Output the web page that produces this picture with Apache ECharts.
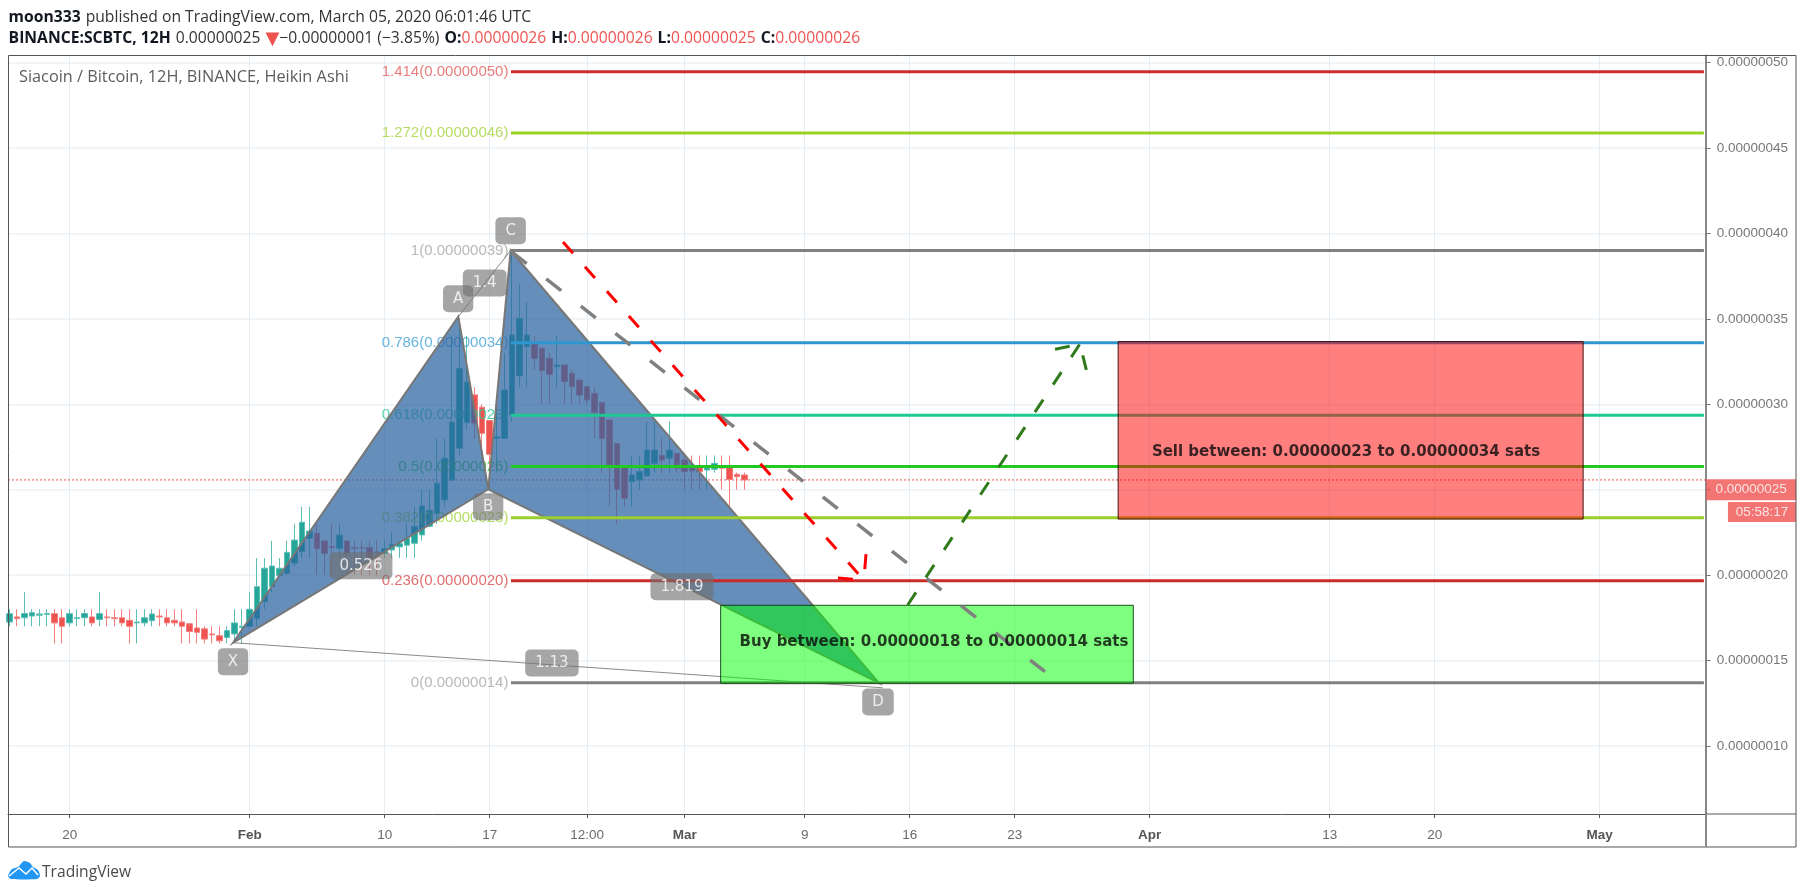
<!DOCTYPE html>
<html><head><meta charset="utf-8"><title>Siacoin / Bitcoin</title>
<style>html,body{margin:0;padding:0;background:#fff}#c{width:1805px;height:894px}</style>
<script src="https://cdn.jsdelivr.net/npm/echarts@6/dist/echarts.min.js"></script>
</head><body><div id="c"></div>
<script>
// All x values are days counted from Jan 1 2020 = 0; all y values are satoshis (1e-8 BTC)
const xTicks = [19,31,40,47,53.5,60,68,75,82,91,103,110,121];
const xTickLabels = ['20','Feb','10','17','12:00','Mar','9','16','23','Apr','13','20','May'];
const yTicks = [10,15,20,25,30,35,40,45,50];
const firstBarDay = 15;
// open, close, low, high
const candles = [
[17.25,17.74,17,18],[17.55,17.45,17,18],[17.5,17.75,17,19],[17.6,17.8,17,18],[17.65,17.72,17,18],[17.7,17.75,17,18],
[17.74,17.2,16,18],[17.5,17.0,16,18],[17.2,17.74,17,18],[17.45,17.5,17,18],[17.5,17.75,17,18],[17.55,17.2,17,18],
[17.4,17.74,17,19],[17.55,17.5,17,18],[17.5,17.45,17,18],[17.5,17.2,17,18],[17.35,17.0,16,18],[17.2,17.25,16,18],
[17.2,17.5,17,18],[17.33,17.72,17,18],[17.6,17.55,17,18],[17.5,17.2,17,18],[17.35,17.2,17,18],[17.25,17.0,16,18],
[17.15,16.7,16,17],[16.9,16.65,16,18],[16.85,16.25,16,17],[16.55,16.5,16,17],[16.45,16.15,16,17],[16.35,16.75,16,17],
[16.55,17.2,16,18],[16.93,17.0,16,18],[17,18,17,19],[17.47,19.32,17,21],[18.44,20.4,18,21],[19.32,20.53,19,22],
[19.96,20.4,19.9,21],[20.1,21.33,20,22],[20.7,22.05,20.5,23],[21.37,23.09,21,24],[22.15,22.58,21,24],[22.44,21.56,20,23],
[22,21.27,20,22],[21.67,21.62,20,23],[21.56,22.34,21,23],[22,21.27,20,22],[21.6,21.55,20,22],[21.62,21.58,20,22],
[21.62,21,20,22],[21.35,21.3,20,22],[21.27,21.55,21,22],[21.47,21.8,21,22.5],[21.65,21.85,21,22],[21.75,22.15,21,23],
[21.86,22.84,21,24],[22.35,24.05,22,25],[22.85,23.8,22.8,25],[23.6,25.38,23,28],[24.4,26.84,24,28],[25.57,28.95,25.5,34],
[27.43,32.1,27,35],[28.93,31.3,28.5,34],[30.55,28.9,28,31],[29.83,28.3,27,30],[29.05,27.07,25,29],[28,28.1,26,30],
[28,30.84,28,33],[29.38,34.06,29,39],[31.66,35.04,31,37],[33.38,34.06,31,36],[33.67,32.69,32,34],[33.28,31.97,30,33.3],
[32.69,31.75,30,33],[32.2,32.3,31,34],[32.3,31.33,30,32.3],[31.81,31.03,30,32],[31.42,30.54,30,31.4],[31.03,30.25,30,31],
[30.64,29.5,28,31],[30.11,28,26,30.1],[29.08,26.45,24,29.1],[27.7,25.02,23,27.7],[26.3,24.5,24,26.3],[25.47,25.86,24,27],
[25.57,26.06,25,27],[25.8,27.32,26,29],[26.54,27.32,26,29],[27,26.74,26,28],[26.84,27.32,26,29],[27.13,26.25,26,27.1],
[26.74,26.06,25,27],[26.3,26.1,25,27],[26.35,26.05,25,27],[26.15,26.35,25,27],[26.19,26.54,26,27],[26.4,26.25,25,27],
[26.35,25.6,24,27],[25.9,25.76,25,26],[25.86,25.57,25,26]
];
// Fibonacci retracement: label text, level, line colour, label colour
const fibLabels = ['1.414(0.00000050)','1.272(0.00000046)','1(0.00000039)','0.786(0.00000034)','0.618(0.00000029)','0.5(0.00000026)','0.382(0.00000023)','0.236(0.00000020)','0(0.00000014)'];
const fibLevels = [49.47,45.88,39,33.6,29.36,26.35,23.36,19.67,13.7];
const fibColors = ['#cc2e2e','#9ad125','#808080','#2f96d0','#1fc892','#22c922','#9acd2e','#cc2929','#808080'];
const fibTextColors = ['#e25b5b','#a3d43e','#a6a6a6','#3fa0d8','#2fcb98','#2fc92f','#a3d43e','#db4b4b','#a6a6a6'];
const fibStartDay = 48.42, fibEndDay = 127.95;
// Harmonic pattern
const triangleXAB = [[29.89,16.04],[44.91,35.13],[46.91,25.02]];
const triangleBCD = [[46.91,25.02],[48.4,39],[72.95,13.68]];
const lineAC = [[44.91,35.13],[48.4,39]];
const lineXD = [[29.89,16.04],[73.2,13.4]];
const patternLabelTexts = ['X','A','B','C','D','1.4','0.526','1.819','1.13'];
const patternLabelX = [29.89,44.9,46.9,48.4,72.89,46.67,38.42,59.82,51.15];
const patternLabelY = [14.93,36.18,24.0,40.16,12.57,37.1,20.55,19.32,14.85];
// Zones
const buyZone = [[62.4,18.23],[89.91,13.67]];
const sellZone = [[88.9,33.67],[119.9,23.28]];
const buyText = 'Buy between: 0.00000018 to 0.00000014 sats';
const sellText = 'Sell between: 0.00000023 to 0.00000034 sats';
const buyTextPos = [76.62,16.07];
const sellTextPos = [104.09,27.19];
// Hand-drawn arrows
const redArrow = [[51.89,39.5],[71.95,19.71]];
const redHeadA = [[70.22,19.83],[71.95,19.71]];
const redHeadB = [[72.09,21.23],[71.95,19.71]];
const grayTrend = [[48.47,38.93],[84.02,14.34]];
const greenArrow = [[74.87,18.25],[86.35,33.53]];
const greenHeadA = [[84.69,33.22],[86.35,33.53]];
const greenHeadB = [[86.78,32.01],[86.35,33.53]];
const lastPriceLine = 25.57;
const priceBadge = ['0.00000025',131.1,25.0];
const timerBadge = ['05:58:17',131.82,23.69];

const X_MIN = 14.89, X_MAX = 128.07, Y_MIN = 6.01, Y_MAX = 50.416;
const SANS = '"Liberation Sans", Arial, sans-serif';
const TV_RED = '#ef5350';

const fmtPrice = v => '0.' + String(Math.round(v)).padStart(8,'0');
const candleData = candles.map((c,i)=>[firstBarDay + i*0.5, c[0], c[1], c[2], c[3]]);

function lineS(name, pts, color, width, dash, z){
  return {type:'line', name, data:pts, symbol:'none', silent:true, animation:false, z,
    lineStyle:{color, width, type:dash||'solid', cap:'butt'}};
}
function polyS(name, pts, fill, stroke, lw, z){
  return {type:'custom', name, data:pts, silent:true, animation:false, z, encode:{x:0,y:1},
    renderItem(params, api){
      if(params.dataIndex!==0) return null;
      return {type:'polygon', shape:{points:pts.map(p=>api.coord(p))},
        style:{fill, stroke, lineWidth:lw, lineJoin:'miter'}};
    }};
}
function rectS(name, c, fill, stroke, z){
  return {type:'custom', name, data:c, silent:true, animation:false, z, encode:{x:0,y:1},
    renderItem(params, api){
      if(params.dataIndex!==0) return null;
      const a=api.coord(c[0]), b=api.coord(c[1]);
      return {type:'rect', shape:{x:a[0],y:a[1],width:b[0]-a[0],height:b[1]-a[1]},
        style:{fill, stroke, lineWidth:1}};
    }};
}
function textS(name, items, label, z, extra){
  return Object.assign({type:'scatter', name, silent:true, animation:false, z, symbol:'circle', symbolSize:1,
    itemStyle:{color:'transparent'},
    data:items.map(t=>({name:t[0], value:[t[1],t[2]]})),
    label:Object.assign({show:true, formatter:'{b}'}, label)}, extra||{});
}

const series = [];
series.push(lineS('last', [[X_MIN,lastPriceLine],[X_MAX,lastPriceLine]], TV_RED, 1, [2,2], 1));
series.push({type:'candlestick', name:'SCBTC', data:candleData, encode:{x:0,y:[1,2,3,4]}, barWidth:6, silent:true, animation:false, z:2,
  itemStyle:{color:'#26a69a', color0:TV_RED, borderColor:'#5cbfb6', borderColor0:'#f37f7c', borderWidth:1}});
fibLevels.forEach((lv,i)=>{
  series.push(lineS('fib'+i, [[fibStartDay,lv],[fibEndDay,lv]], fibColors[i], 3, 'solid', 5));
  series.push(textS('fibL'+i, [[fibLabels[i],fibStartDay,lv]], {position:'left', distance:2, color:fibTextColors[i], fontFamily:SANS, fontSize:15}, 3));
});
series.push(polyS('XAB', triangleXAB, 'rgba(41,98,160,0.72)', '#777777', 2, 4));
series.push(polyS('BCD', triangleBCD, 'rgba(41,98,160,0.72)', '#777777', 2, 4));
series.push(lineS('AC', lineAC, '#8a8a8a', 1, 'solid', 4));
series.push(lineS('XD', lineXD, '#8a8a8a', 1, 'solid', 4));
series.push(rectS('buy', buyZone, 'rgba(0,255,0,0.5)', 'rgba(0,50,0,0.85)', 6));
series.push(rectS('sell', sellZone, 'rgba(255,0,0,0.5)', 'rgba(50,0,0,0.9)', 6));
series.push(lineS('gray', grayTrend, '#808080', 3.5, [19,25], 7));
series.push(lineS('red', redArrow, '#ff0000', 3, [15,18], 7));
series.push(lineS('redA', redHeadA, '#ff0000', 3, [15,18], 7));
series.push(lineS('redB', redHeadB, '#ff0000', 3, [15,18], 7));
series.push(lineS('green', greenArrow, '#317a1c', 3, [15,18], 7));
series.push(lineS('greenA', greenHeadA, '#317a1c', 3, [15,18], 7));
series.push(lineS('greenB', greenHeadB, '#317a1c', 3, [15,18], 7));
series.push(textS('zoneText', [[buyText,buyTextPos[0],buyTextPos[1]],[sellText,sellTextPos[0],sellTextPos[1]]],
  {position:'inside', color:'#0a0a0a', fontFamily:'"DejaVu Sans"', fontWeight:'bold', fontSize:15}, 8));
series.push(textS('pattern', patternLabelTexts.map((t,i)=>[t,patternLabelX[i],patternLabelY[i]]),
  {position:'inside', color:'#fff', fontFamily:'"DejaVu Sans"', fontSize:15, backgroundColor:'rgba(112,112,112,0.78)', borderRadius:5, padding:[6,10,6,10]}, 9));
series.push(textS('priceBadge', [priceBadge], {position:'inside', color:'#fff', fontFamily:SANS, fontSize:13.5, backgroundColor:TV_RED, width:90, height:21, align:'center', verticalAlign:'middle', lineHeight:21}, 10, {clip:false}));
series.push(textS('timerBadge', [timerBadge], {position:'inside', color:'#fff', fontFamily:SANS, fontSize:13.5, backgroundColor:TV_RED, width:68, height:20, align:'center', verticalAlign:'middle', lineHeight:20}, 10, {clip:false}));

const FS = 15.7;
const bold = {color:'#131722', fontWeight:'bold', fontFamily:'"Open Sans"', fontSize:FS};
const norm = {color:'#333', fontWeight:'normal', fontFamily:'"Open Sans"', fontSize:FS};
const redT = {color:TV_RED, fontWeight:'normal', fontFamily:'"Open Sans"', fontSize:FS};
const tri = {color:TV_RED, fontWeight:'normal', fontFamily:'"DejaVu Sans"', fontSize:18};

const chart = echarts.init(document.getElementById('c'), null, {renderer:'canvas', width:1805, height:894});
chart.setOption({
  animation:false, backgroundColor:'#ffffff',
  title:[
    {left:8.6, top:8.5, padding:0, text:'{b|moon333} {n|published on TradingView.com, March 05, 2020 06:01:46 UTC}', textStyle:{rich:{b:bold,n:norm}}},
    {left:8.6, top:30, padding:0, text:'{b|BINANCE:SCBTC, 12H} {n|0.00000025} {t|▼}{n|−0.00000001 (−3.85%)} {b|O:}{r|0.00000026} {b|H:}{r|0.00000026} {b|L:}{r|0.00000025} {b|C:}{r|0.00000026}', textStyle:{rich:{b:bold,n:norm,r:redT,t:tri}}},
    {left:19, top:69, padding:0, text:'Siacoin / Bitcoin, 12H, BINANCE, Heikin Ashi', textStyle:{color:'#5d5d5d', fontWeight:'normal', fontFamily:'"Open Sans"', fontSize:16.3}},
    {left:42, top:865, padding:0, text:'TradingView', textStyle:{color:'#4a4a4a', fontWeight:'normal', fontFamily:'"Open Sans"', fontSize:15.6}}
  ],
  grid:{left:8, top:55.6, width:1697.7, height:758.4, containLabel:false, show:false},
  xAxis:{type:'value', min:X_MIN, max:X_MAX, scale:true,
    axisLine:{show:true, onZero:false, lineStyle:{color:'#555', width:1}},
    axisTick:{show:true, length:4, customValues:xTicks, lineStyle:{color:'#555'}},
    splitLine:{show:true, lineStyle:{color:'#e6eef5', width:1}},
    axisLabel:{customValues:xTicks, margin:14, color:'#6a6a6a', fontFamily:SANS, fontSize:13.5,
      formatter:v=>{const t=xTickLabels[xTicks.indexOf(v)]||''; return /[A-Za-z]/.test(t)?'{m|'+t+'}':t;},
      rich:{m:{fontWeight:'bold', color:'#555', fontFamily:SANS, fontSize:13.5}}}},
  yAxis:{type:'value', position:'right', min:Y_MIN, max:Y_MAX, scale:true,
    axisLine:{show:true, onZero:false, lineStyle:{color:'#888', width:2}},
    axisTick:{show:true, length:5, customValues:yTicks, lineStyle:{color:'#777'}},
    splitLine:{show:true, lineStyle:{color:'#edf2f6', width:1.5}},
    axisLabel:{customValues:yTicks.filter(v=>v!==25), margin:11, color:'#777', fontFamily:SANS, fontSize:13.5, formatter:fmtPrice}},
  series,
  graphic:[
    {type:'rect', silent:true, z:100, shape:{x:8.5,y:55.5,width:1787.5,height:791.5}, style:{fill:'none',stroke:'#555',lineWidth:1}},
    {type:'line', silent:true, z:100, shape:{x1:1706,y1:814,x2:1796,y2:814}, style:{stroke:'#555',lineWidth:1}},
    {type:'line', silent:true, z:100, shape:{x1:1706,y1:814,x2:1706,y2:847}, style:{stroke:'#888',lineWidth:2}},
    {type:'polygon', silent:true, z:100, shape:{smooth:0.25, points:[[8,876],[12,869],[18,867],[24,861],[30,863],[33,867],[38,870],[40,876],[37,879],[11,879]]}, style:{fill:'#2196f3'}},
    {type:'polyline', silent:true, z:101, shape:{points:[[9,876],[19,868],[26,874],[32,868],[38,875]]}, style:{fill:'none',stroke:'#fff',lineWidth:1.5}}
  ]
});
</script></body></html>
